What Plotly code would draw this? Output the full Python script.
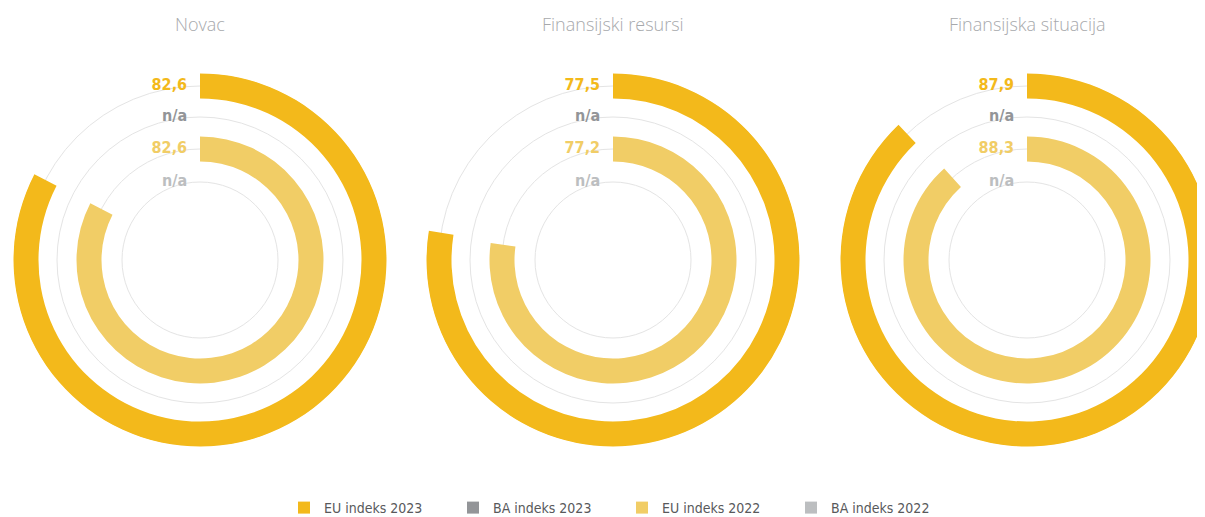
import plotly.graph_objects as go

# ---- data ----
categories = ["Novac", "Finansijski resursi", "Finansijska situacija"]
series_names = ["EU indeks 2023", "BA indeks 2023", "EU indeks 2022", "BA indeks 2022"]
eu_2023 = [82.6, 77.5, 87.9]
ba_2023 = [None, None, None]
eu_2022 = [82.6, 77.2, 88.3]
ba_2022 = [None, None, None]
scale_max = 100

# ---- styling / geometry ----
W, H = 1206, 509
bar_colors = ["#F3B91B", "#939598", "#F1CD66", "#BCBEC0"]
ring_mid = [174, 143, 111, 78]     # radial centre of each ring (axis units)
ring_thick = 25
R_MAX = 187
centers_x = [192, 605, 1019]
center_y = 252
label_font = "DejaVu Sans Condensed, DejaVu Sans, sans-serif"

series_values = [eu_2023, ba_2023, eu_2022, ba_2022]


def fmt(v):
    return "n/a" if v is None else f"{v:.1f}".replace(".", ",")


fig = go.Figure()
layout_polars = {}
annotations = []

for ci, cat in enumerate(categories):
    pname = "polar" if ci == 0 else f"polar{ci + 1}"
    cx = centers_x[ci]
    rad = min(R_MAX, cx, W - cx)
    x0 = (cx - rad) / W
    x1 = (cx + rad) / W
    ytop = H - center_y
    y0 = (ytop - rad) / H
    y1 = (ytop + rad) / H

    for si, name in enumerate(series_names):
        v = series_values[si][ci]
        if v is None:
            r_vals, th, wd = [None], [0], [0]
        else:
            deg = v / scale_max * 360
            r_vals, th, wd = [ring_thick], [deg / 2], [deg]
        fig.add_trace(go.Barpolar(
            r=r_vals, theta=th, width=wd,
            base=[ring_mid[si] - ring_thick / 2],
            marker=dict(color=bar_colors[si], line=dict(width=0)),
            name=name, legendgroup=name, showlegend=(ci == 0),
            subplot=pname, hoverinfo="skip",
        ))

    texts = [fmt(series_values[si][ci]) + "\u00a0\u00a0\u2009" for si in range(4)]
    fig.add_trace(go.Scatterpolar(
        r=ring_mid, theta=[0, 0, 0, 0], mode="text",
        text=[f"<b>{t}</b>" for t in texts],
        textposition="middle left",
        textfont=dict(family=label_font, size=16, color=bar_colors),
        showlegend=False, subplot=pname, hoverinfo="skip",
    ))

    layout_polars[pname] = dict(
        domain=dict(x=[x0, x1], y=[y0, y1]),
        bgcolor="rgba(0,0,0,0)",
        radialaxis=dict(range=[0, R_MAX], tickvals=ring_mid, showticklabels=False,
                        ticks="", showline=False, showgrid=True,
                        gridcolor="#E4E4E4", gridwidth=1.3),
        angularaxis=dict(rotation=90, direction="clockwise", showgrid=False,
                         showline=False, showticklabels=False, ticks=""),
        hole=0,
    )
    annotations.append(dict(
        text=cat, x=cx / W, y=1 - 16 / H, xref="paper", yref="paper",
        xanchor="center", yanchor="middle", showarrow=False,
        font=dict(family="Open Sans, sans-serif", size=18, color="#A7A9AC", weight=300),
    ))

fig.update_layout(
    **layout_polars,
    annotations=annotations,
    width=W, height=H, autosize=False,
    margin=dict(l=0, r=0, t=0, b=0, autoexpand=False),
    paper_bgcolor="white",
    plot_bgcolor="white",
    barmode="overlay",
    showlegend=True,
    legend=dict(orientation="h", x=276 / W, xanchor="left", y=9 / H, yanchor="middle",
                entrywidth=124, entrywidthmode="pixels",
                font=dict(family=label_font, size=14, color="#58595B"),
                itemclick=False, itemdoubleclick=False),
)

fig.write_html("out.html")
